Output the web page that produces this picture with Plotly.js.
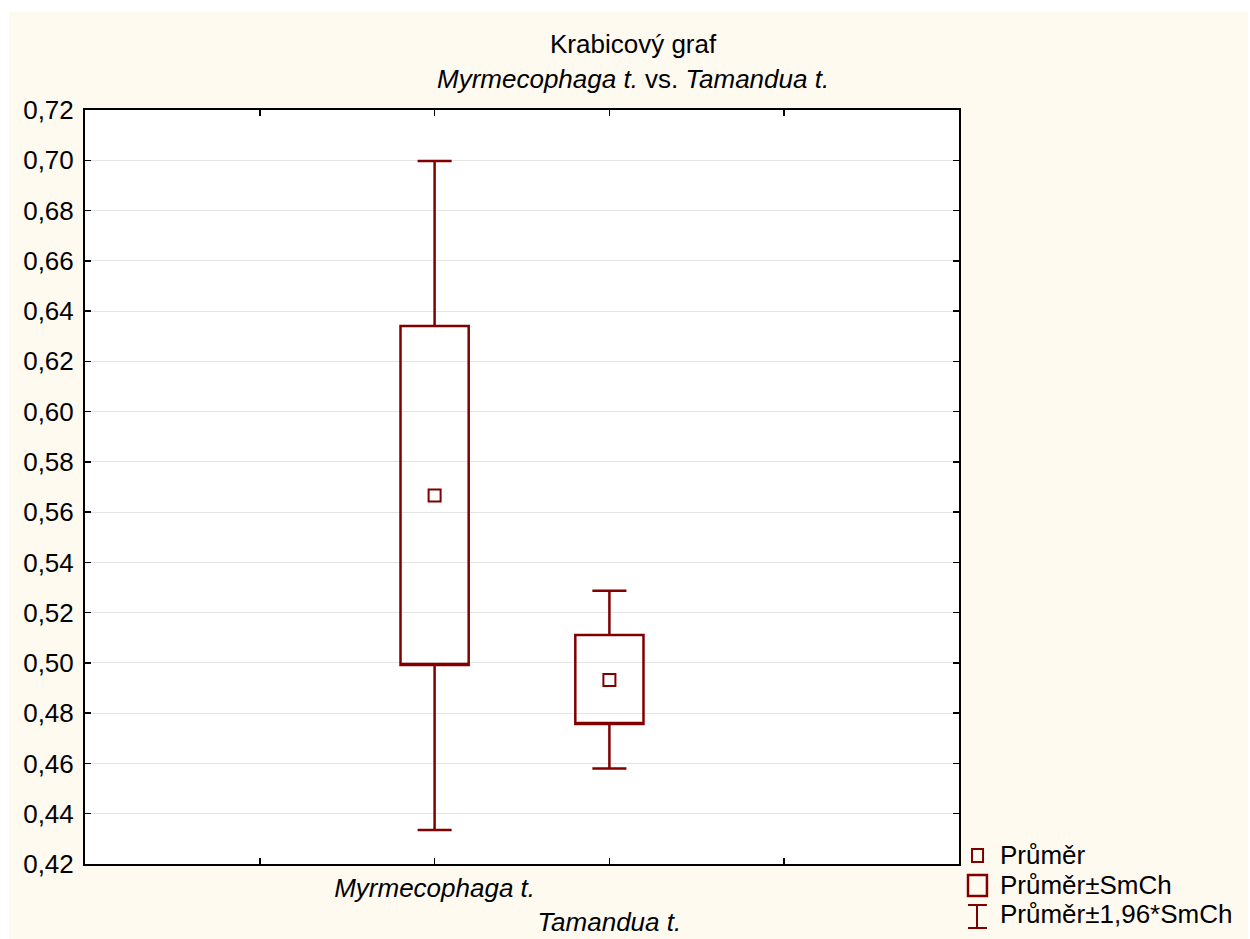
<!DOCTYPE html>
<html>
<head>
<meta charset="utf-8">
<script src="https://cdn.plot.ly/plotly-3.0.1.min.js"></script>
<style>
html,body{margin:0;padding:0;background:#ffffff;}
#chart{position:absolute;left:9px;top:12px;width:1239px;height:927px;}
</style>
</head>
<body>
<div id="chart"></div>
<script>
// Data
const categories = ["Myrmecophaga t.", "Tamandua t."];
const means      = [0.5666, 0.4932];
const meanMinusSE = [0.4992, 0.4757];
const meanPlusSE  = [0.6341, 0.5111];
const meanMinus196SE = [0.4335, 0.4580];
const meanPlus196SE  = [0.6997, 0.5287];
const yTickVals = [0.42,0.44,0.46,0.48,0.50,0.52,0.54,0.56,0.58,0.60,0.62,0.64,0.66,0.68,0.70,0.72];
const yTickText = yTickVals.map(v => v.toFixed(2).replace('.', ','));
const legendLabels = ["Průměr", "Průměr±SmCh", "Průměr±1,96*SmCh"];
const titleLines = ["Krabicový graf", "<i>Myrmecophaga t.</i> vs. <i>Tamandua t.</i>"];

const dark = "#800000";
const font = "Liberation Sans, Arial, sans-serif";
const fs = 26;
const xpos = categories.map((c, i) => i + 2);

const traces = categories.map((c, i) => ({
  type: "box",
  x: [xpos[i]],
  q1: [meanMinusSE[i]],
  median: [meanMinusSE[i]],
  q3: [meanPlusSE[i]],
  lowerfence: [meanMinus196SE[i]],
  upperfence: [meanPlus196SE[i]],
  width: 0.39,
  whiskerwidth: 0.5,
  fillcolor: "rgba(255,255,255,0)",
  line: {color: dark, width: 2.5},
  hoverinfo: "skip",
  showlegend: false
}));
traces.push({
  type: "scatter", mode: "markers",
  x: xpos, y: means,
  marker: {symbol: "square-open", size: 12, color: dark, line: {width: 2, color: dark}},
  showlegend: false, hoverinfo: "skip"
});

// Manual legend
const shapes = [
  {type:"rect", xref:"paper", yref:"paper", x0:1.0149, x1:1.0275, y0:0.0027, y1:0.0199, line:{color:dark,width:2}},
  {type:"rect", xref:"paper", yref:"paper", x0:1.0103, x1:1.0320, y0:-0.0424, y1:-0.0146, line:{color:dark,width:2.5}},
  {type:"line", xref:"paper", yref:"paper", x0:1.0206, x1:1.0206, y0:-0.0849, y1:-0.0544, line:{color:dark,width:2}},
  {type:"line", xref:"paper", yref:"paper", x0:1.0103, x1:1.0320, y0:-0.0544, y1:-0.0544, line:{color:dark,width:2}},
  {type:"line", xref:"paper", yref:"paper", x0:1.0103, x1:1.0320, y0:-0.0849, y1:-0.0849, line:{color:dark,width:2}}
];
const legendY = [0.0119, -0.0279, -0.0663];
const annotations = legendLabels.map((t, i) => ({
  xref:"paper", yref:"paper", x:1.0446, y:legendY[i], xanchor:"left", yanchor:"middle",
  text:t, showarrow:false, font:{family:font, size:fs, color:"#000"}
}));
const titleY = [1.0875, 1.0411];
titleLines.forEach((t, i) => annotations.push({
  xref:"paper", yref:"paper", x:0.6275, y:titleY[i], xanchor:"center", yanchor:"middle",
  text:t, showarrow:false, font:{family:font, size:fs, color:"#000"}
}));

const layout = {
  width: 1239, height: 927,
  paper_bgcolor: "#fffaf0",
  plot_bgcolor: "#ffffff",
  margin: {l: 76, r: 289, t: 98, b: 75},
  font: {family: font, size: fs, color: "#000"},
  xaxis: {
    range: [0, 5],
    tickmode: "array",
    tickvals: [1, 2, 3, 4],
    ticktext: ["", "<i>" + categories[0] + "</i>", "<br><i>" + categories[1] + "</i>", ""],
    ticks: "inside", ticklen: 6, tickwidth: 1.5, tickcolor: "#000",
    showline: true, linecolor: "#000", linewidth: 2, mirror: "ticks",
    showgrid: false, zeroline: false,
    tickfont: {family: font, size: fs, color: "#000"}
  },
  yaxis: {
    range: [0.42, 0.72],
    tickmode: "array",
    tickvals: yTickVals, ticktext: yTickText,
    ticks: "inside", ticklen: 6, tickwidth: 1.5, tickcolor: "#000",
    ticklabelstandoff: 4,
    showline: true, linecolor: "#000", linewidth: 2, mirror: "ticks",
    showgrid: true, gridcolor: "#e4e4e4", gridwidth: 1,
    zeroline: false,
    tickfont: {family: font, size: fs, color: "#000"}
  },
  shapes: shapes,
  annotations: annotations,
  showlegend: false
};

Plotly.newPlot("chart", traces, layout, {displayModeBar: false, staticPlot: true});
</script>
</body>
</html>
